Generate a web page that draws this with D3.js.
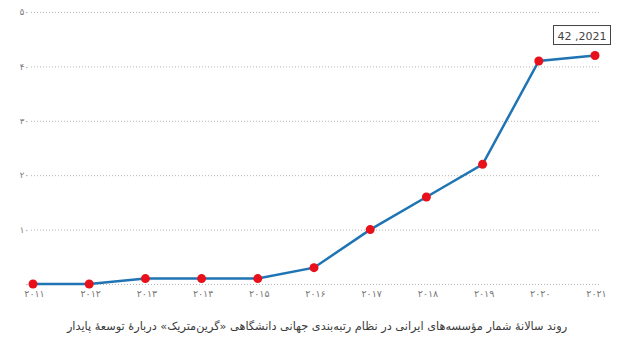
<!DOCTYPE html>
<html>
<head>
<meta charset="utf-8">
<script src="https://cdn.jsdelivr.net/npm/d3@7"></script>
<style>
  html, body { margin: 0; padding: 0; background: #fff; }
  svg { display: block; }
</style>
</head>
<body>
<svg id="chart" width="622" height="346"></svg>
<script>
// Years and the number of Iranian institutions ranked in GreenMetric
const years = [2011, 2012, 2013, 2014, 2015, 2016, 2017, 2018, 2019, 2020, 2021];
const counts = [0, 0, 1, 1, 1, 3, 10, 16, 22, 41, 42];
const yTicks = [0, 10, 20, 30, 40, 50];
const title = "روند سالانهٔ شمار مؤسسه‌های ایرانی در نظام رتبه‌بندی جهانی دانشگاهی «گرین‌متریک» دربارهٔ توسعهٔ پایدار";
const highlight = { year: 2021, value: 42 };

const toFa = s => String(s).replace(/\d/g, d => "۰۱۲۳۴۵۶۷۸۹"[d]);

const svg = d3.select("#chart");
const fontFa = "'DejaVu Sans', 'Noto Sans', sans-serif";

const x = d3.scaleLinear().domain([2011, 2021]).range([33, 595]);
const y = d3.scaleLinear().domain([0, 50]).range([284, 12]);

// Horizontal dotted grid
const gridAxis = d3.axisLeft(y).tickValues(yTicks).tickSize(-(600 - 31)).tickFormat("");
const grid = svg.append("g").attr("transform", "translate(31,0)").call(gridAxis);
grid.select(".domain").remove();
grid.selectAll("line").attr("stroke", "#b5b5b5").attr("stroke-dasharray", "1,2");

// Y tick labels
const yAxis = d3.axisLeft(y).tickValues(yTicks).tickSize(0).tickPadding(0).tickFormat(toFa);
const ya = svg.append("g").attr("transform", "translate(29,0)").call(yAxis);
ya.select(".domain").remove();
ya.selectAll("text").attr("fill", "#777").style("font-family", fontFa).style("font-size", "8.5px")
  .attr("letter-spacing", "1px");

// X tick labels
const xAxis = d3.axisBottom(x).tickValues(years).tickSize(0).tickPadding(0).tickFormat(toFa);
const xa = svg.append("g").attr("transform", "translate(1,290)").call(xAxis);
xa.select(".domain").remove();
xa.selectAll("text").attr("fill", "#777").style("font-family", fontFa).style("font-size", "9.5px")
  .attr("letter-spacing", "2.5px");

// Line
const data = years.map((yr, i) => ({ yr, v: counts[i] }));
svg.append("path")
  .datum(data)
  .attr("fill", "none")
  .attr("stroke", "#1f74b4")
  .attr("stroke-width", 2.5)
  .attr("d", d3.line().x(d => x(d.yr)).y(d => y(d.v)));

// Points
svg.append("g").selectAll("circle").data(data).join("circle")
  .attr("cx", d => x(d.yr)).attr("cy", d => y(d.v)).attr("r", 4.5)
  .attr("fill", "#e8101a");

// Value callout for the last year
const label = `${highlight.value} ,${highlight.year}`;
const cx = x(highlight.year) - 13, cyTop = y(highlight.value) - 30;
const tg = svg.append("g");
const txt = tg.append("text")
  .attr("x", cx).attr("y", cyTop + 14)
  .attr("text-anchor", "middle")
  .attr("direction", "ltr")
  .attr("fill", "#444")
  .style("font-family", "'DejaVu Sans', sans-serif")
  .style("font-size", "11px")
  .text(label);
const bb = txt.node().getBBox();
tg.insert("rect", "text")
  .attr("x", bb.x - 4).attr("y", cyTop)
  .attr("width", bb.width + 8).attr("height", 19)
  .attr("fill", "#fff").attr("stroke", "#444").attr("stroke-width", 1);

// Caption
svg.append("text")
  .attr("x", 317).attr("y", 330)
  .attr("text-anchor", "middle")
  .attr("direction", "rtl")
  .attr("fill", "#3a3a3a")
  .style("font-family", fontFa)
  .style("font-size", "11.3px")
  .text(title);
</script>
</body>
</html>
